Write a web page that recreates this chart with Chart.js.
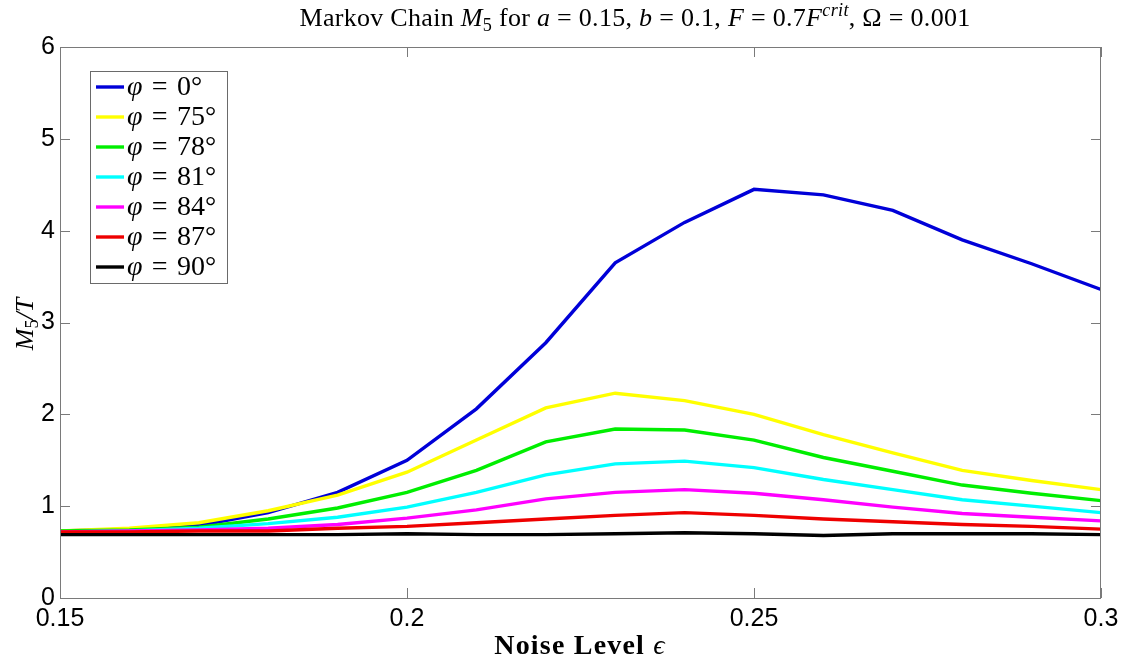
<!DOCTYPE html>
<html>
<head>
<meta charset="utf-8">
<script src="https://cdn.jsdelivr.net/npm/chart.js@4.4.1/dist/chart.umd.min.js"></script>
<style>
  html, body { margin: 0; padding: 0; background: #fff; }
  #wrap { width: 1132px; height: 661px; }
</style>
</head>
<body>
<div id="wrap"><canvas id="chart" width="1132" height="661"></canvas></div>
<script>
// noise level epsilon
var noiseLevels = [0.15, 0.16, 0.17, 0.18, 0.19, 0.20, 0.21, 0.22, 0.23, 0.24, 0.25, 0.26, 0.27, 0.28, 0.29, 0.30];
var phiLabels = ['0', '75', '78', '81', '84', '87', '90'];
var phi0  = [0.73, 0.75, 0.79, 0.93, 1.15, 1.50, 2.06, 2.78, 3.65, 4.09, 4.45, 4.39, 4.22, 3.90, 3.64, 3.36];
var phi75 = [0.73, 0.76, 0.82, 0.95, 1.12, 1.37, 1.72, 2.07, 2.23, 2.15, 2.00, 1.78, 1.58, 1.39, 1.28, 1.18];
var phi78 = [0.73, 0.74, 0.77, 0.86, 0.98, 1.15, 1.39, 1.70, 1.84, 1.83, 1.72, 1.53, 1.38, 1.23, 1.14, 1.06];
var phi81 = [0.72, 0.73, 0.76, 0.81, 0.88, 0.99, 1.15, 1.34, 1.46, 1.49, 1.42, 1.29, 1.18, 1.07, 1.00, 0.93];
var phi84 = [0.72, 0.73, 0.74, 0.76, 0.80, 0.87, 0.96, 1.08, 1.15, 1.18, 1.14, 1.07, 0.99, 0.92, 0.88, 0.84];
var phi87 = [0.72, 0.72, 0.73, 0.73, 0.76, 0.78, 0.82, 0.86, 0.90, 0.93, 0.90, 0.86, 0.83, 0.80, 0.78, 0.75];
var phi90 = [0.69, 0.69, 0.69, 0.69, 0.69, 0.70, 0.69, 0.69, 0.70, 0.71, 0.70, 0.68, 0.70, 0.70, 0.70, 0.69];
var xTicks = [0.15, 0.2, 0.25, 0.3];
var yTicks = [0, 1, 2, 3, 4, 5, 6];

var seriesValues = [phi0, phi75, phi78, phi81, phi84, phi87, phi90];
var colors = ['#0000d8', '#ffff00', '#00ee00', '#00ffff', '#ff00ff', '#ee0000', '#000000'];

function toPoints(vals) {
  return vals.map(function(v, i) { return { x: noiseLevels[i], y: v }; });
}

var datasets = seriesValues.map(function(vals, i) {
  return {
    label: 'phi = ' + phiLabels[i] + '°',
    data: toPoints(vals),
    borderColor: colors[i],
    backgroundColor: colors[i],
    borderWidth: 3.4,
    pointRadius: 0,
    tension: 0,
    fill: false,
    order: seriesValues.length - 1 - i // later series drawn on top, like matlab
  };
});

var SERIF = '"Liberation Serif", "DejaVu Serif", serif';
var SANS = '"Liberation Sans", Arial, sans-serif';

// draws a run of text pieces, each {t, it, bold, sub, sup}
function drawRich(ctx, parts, x, y, size, align, spacing) {
  ctx.letterSpacing = (spacing || 0) + 'px';
  function fontFor(p) {
    var s = (p.sub || p.sup) ? size * 0.7 : size;
    return (p.it ? 'italic ' : '') + (p.bold ? 'bold ' : '') + s + 'px ' + SERIF;
  }
  var total = 0;
  parts.forEach(function(p) { ctx.font = fontFor(p); total += ctx.measureText(p.t).width; });
  var cx = x;
  if (align === 'center') cx = x - total / 2;
  ctx.textBaseline = 'alphabetic';
  ctx.textAlign = 'left';
  parts.forEach(function(p) {
    ctx.font = fontFor(p);
    var dy = p.sub ? size * 0.2 : (p.sup ? -size * 0.38 : 0);
    ctx.fillText(p.t, cx, y + dy);
    cx += ctx.measureText(p.t).width;
  });
  ctx.letterSpacing = '0px';
}

var decorPlugin = {
  id: 'decor',
  afterDraw: function(chart) {
    var ctx = chart.ctx;
    var a = chart.chartArea;
    var xs = chart.scales.x, ys = chart.scales.y;
    ctx.save();

    // box + inward ticks
    ctx.strokeStyle = '#7a7a7a';
    ctx.lineWidth = 1;
    ctx.strokeRect(a.left + 0.5, a.top + 0.5, a.right - a.left - 1, a.bottom - a.top);
    ctx.beginPath();
    xTicks.forEach(function(t) {
      var px = Math.round(xs.getPixelForValue(t)) + 0.5;
      ctx.moveTo(px, a.bottom); ctx.lineTo(px, a.bottom - 10);
      ctx.moveTo(px, a.top); ctx.lineTo(px, a.top + 10);
    });
    yTicks.forEach(function(t) {
      var py = Math.round(ys.getPixelForValue(t)) + 0.5;
      ctx.moveTo(a.left, py); ctx.lineTo(a.left + 10, py);
      ctx.moveTo(a.right, py); ctx.lineTo(a.right - 10, py);
    });
    ctx.stroke();

    ctx.fillStyle = '#000';
    // title
    drawRich(ctx, [
      { t: 'Markov Chain ' }, { t: 'M', it: true }, { t: '5', sub: true },
      { t: ' for ' }, { t: 'a', it: true }, { t: ' = 0.15, ' },
      { t: 'b', it: true }, { t: ' = 0.1, ' },
      { t: 'F', it: true }, { t: ' = 0.7' }, { t: 'F', it: true }, { t: 'crit', it: true, sup: true },
      { t: ', Ω = 0.001' }
    ], 635, 26, 26, 'center', 0.3);

    // x axis title
    drawRich(ctx, [{ t: 'Noise Level ', bold: true }, { t: 'ϵ', it: true }], 580, 654, 28, 'center', 1.2);

    // y axis title
    ctx.save();
    ctx.translate(33, 324);
    ctx.rotate(-Math.PI / 2);
    drawRich(ctx, [{ t: 'M', it: true }, { t: '5', sub: true }, { t: '/', it: true }, { t: 'T', it: true }], 0, 0, 26, 'center');
    ctx.restore();

    // legend box
    var lx = 90, ly = 71, lw = 137, lh = 212;
    ctx.fillStyle = '#fff';
    ctx.fillRect(lx, ly, lw, lh);
    ctx.strokeStyle = '#6a6a6a';
    ctx.strokeRect(lx + 0.5, ly + 0.5, lw, lh);
    chart.data.datasets.forEach(function(ds, i) {
      var cy = 87 + i * 30;
      ctx.strokeStyle = ds.borderColor;
      ctx.lineWidth = 3.4;
      ctx.beginPath();
      ctx.moveTo(96, cy); ctx.lineTo(124, cy);
      ctx.stroke();
      ctx.fillStyle = '#000';
      drawRich(ctx, [{ t: 'φ', it: true }, { t: '\u2004=\u2004' + phiLabels[i] + '°' }], 127, cy + 8, 28, 'left');
    });
    ctx.restore();
  }
};

new Chart(document.getElementById('chart'), {
  type: 'line',
  data: { datasets: datasets },
  options: {
    responsive: false,
    animation: false,
    layout: { padding: { left: 0, right: 31, top: 47, bottom: 0 } },
    plugins: {
      legend: { display: false },
      title: { display: false },
      tooltip: { enabled: false }
    },
    scales: {
      x: {
        type: 'linear',
        min: 0.15,
        max: 0.3,
        afterBuildTicks: function(scale) {
          scale.ticks = xTicks.map(function(v) { return { value: v }; });
        },
        afterFit: function(scale) { scale.height = 661 - 598; },
        grid: { display: false, drawTicks: false },
        border: { display: false },
        ticks: {
          color: '#000',
          padding: 6,
          font: { family: SANS, size: 25 },
          maxRotation: 0,
          autoSkip: false,
          callback: function(v) { return String(v); }
        }
      },
      y: {
        min: 0,
        max: 6,
        afterBuildTicks: function(scale) {
          scale.ticks = yTicks.map(function(v) { return { value: v }; });
        },
        afterFit: function(scale) { scale.width = 60; },
        grid: { display: false, drawTicks: false },
        border: { display: false },
        ticks: {
          color: '#000',
          padding: 5,
          font: { family: SANS, size: 25 },
          callback: function(v) { return String(v); }
        }
      }
    }
  },
  plugins: [decorPlugin]
});
</script>
</body>
</html>
